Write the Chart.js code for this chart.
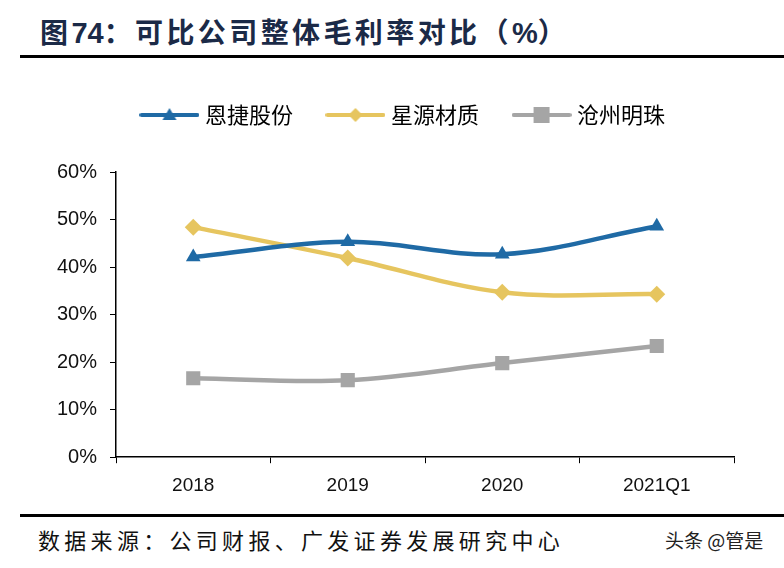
<!DOCTYPE html>
<html>
<head>
<meta charset="utf-8">
<script src="https://cdn.jsdelivr.net/npm/chart.js@4/dist/chart.umd.min.js"></script>
<style>
  body { margin: 0; width: 784px; height: 568px; background: #fff; position: relative; overflow: hidden; font-family: "Noto Sans CJK SC", sans-serif; }
  #title { position: absolute; left: 40px; top: 13px; font-size: 28px; line-height: 36px; font-weight: bold; color: #1b2a47; letter-spacing: 3.4px; white-space: nowrap; }
  #title .num { font-family: "Liberation Sans", sans-serif; font-size: 29px; letter-spacing: 0; }
  .rule { position: absolute; left: 20px; right: 0; height: 3px; background: #000; }
  #chartBox { position: absolute; left: 0; top: 60px; width: 784px; height: 450px; }
  #source { position: absolute; left: 38px; top: 524px; font-size: 22px; line-height: 30px; color: #111; letter-spacing: 4.3px; white-space: nowrap; }
  #mark { position: absolute; left: 665px; top: 527px; font-size: 19px; line-height: 26px; color: #222; white-space: nowrap; }
</style>
</head>
<body>
<div id="title">图<span class="num">74</span>：可比公司整体毛利率对比（<span class="num">%</span>）</div>
<div class="rule" style="top:55px"></div>
<div id="chartBox"><canvas id="chart"></canvas></div>
<div class="rule" style="top:514px"></div>
<div id="source">数据来源：公司财报、广发证券发展研究中心</div>
<div id="mark">头条 @管是</div>
<script>
// Chart data
const categories = ['2018', '2019', '2020', '2021Q1'];
const seriesNames = ['恩捷股份', '星源材质', '沧州明珠'];
const enjie = [42.1, 45.3, 42.7, 48.6];
const xingyuan = [48.4, 41.9, 34.7, 34.3];
const cangzhou = [16.6, 16.2, 19.8, 23.4];
const yTicks = [0, 10, 20, 30, 40, 50, 60];

const colors = ['#1f6aa5', '#e6c55f', '#a5a5a5'];
const markers = ['triangle', 'rectRot', 'rect'];

// legend swatch: line with marker in the middle
function legendIcon(color, marker) {
  const c = document.createElement('canvas');
  c.width = 60; c.height = 18;
  const g = c.getContext('2d');
  g.strokeStyle = color; g.lineWidth = 4; g.lineCap = 'round';
  g.beginPath(); g.moveTo(2, 9); g.lineTo(58, 9); g.stroke();
  g.fillStyle = color;
  g.beginPath();
  if (marker === 'triangle') { g.moveTo(30, 2); g.lineTo(37, 14); g.lineTo(23, 14); }
  else if (marker === 'rectRot') { g.moveTo(30, 2); g.lineTo(37, 9); g.lineTo(30, 16); g.lineTo(23, 9); }
  else { g.rect(22, 1, 16, 16); }
  g.fill();
  return c;
}

const values = [enjie, xingyuan, cangzhou];
const datasets = values.map((v, i) => ({
  label: seriesNames[i],
  data: v,
  borderColor: colors[i],
  backgroundColor: colors[i],
  borderWidth: 4.5,
  tension: 0.35,
  pointStyle: markers[i],
  pointRadius: i === 2 ? 10 : 8.5,
  pointBorderWidth: 0
}));

// push the plot down below the legend, and nudge the legend right
const legendGap = {
  id: 'legendGap',
  beforeInit(chart) {
    const fit = chart.legend.fit;
    chart.legend.fit = function () {
      fit.bind(chart.legend)();
      this.height += 36;
    };
  },
  afterLayout(chart) {
    chart.legend.left += 18;
    chart.legend.right += 18;
  }
};

new Chart(document.getElementById('chart'), {
  type: 'line',
  data: { labels: categories, datasets },
  plugins: [legendGap],
  options: {
    responsive: true,
    maintainAspectRatio: false,
    animation: false,
    layout: { padding: { left: 40, right: 50, top: 6, bottom: 2 } },
    plugins: {
      tooltip: { enabled: false },
      legend: {
        position: 'top',
        labels: {
          usePointStyle: true,
          pointStyleWidth: 49,
          padding: 38,
          color: '#111',
          font: { size: 22, family: '"Noto Sans CJK SC", sans-serif' },
          generateLabels: chart => chart.data.datasets.map((d, i) => ({
            text: d.label,
            pointStyle: legendIcon(colors[i], markers[i]),
            fillStyle: colors[i],
            strokeStyle: colors[i],
            lineWidth: 0,
            datasetIndex: i
          }))
        }
      }
    },
    scales: {
      x: {
        offset: true,
        grid: { offset: true, drawOnChartArea: false, drawTicks: true, tickLength: 6, color: '#000' },
        border: { color: '#000', width: 1.5 },
        ticks: { color: '#111', padding: 11, font: { size: 19, family: '"Liberation Sans", sans-serif' } }
      },
      y: {
        min: 0,
        max: 60,
        afterBuildTicks: axis => { axis.ticks = yTicks.map(v => ({ value: v })); },
        afterFit: axis => { axis.width = 76; },
        grid: { drawOnChartArea: false, drawTicks: true, tickLength: 6, color: '#000' },
        border: { color: '#000', width: 1.5 },
        ticks: {
          color: '#111', padding: 13,
          font: { size: 20, family: '"Liberation Sans", sans-serif' },
          callback: v => v + '%'
        }
      }
    }
  }
});
</script>
</body>
</html>
